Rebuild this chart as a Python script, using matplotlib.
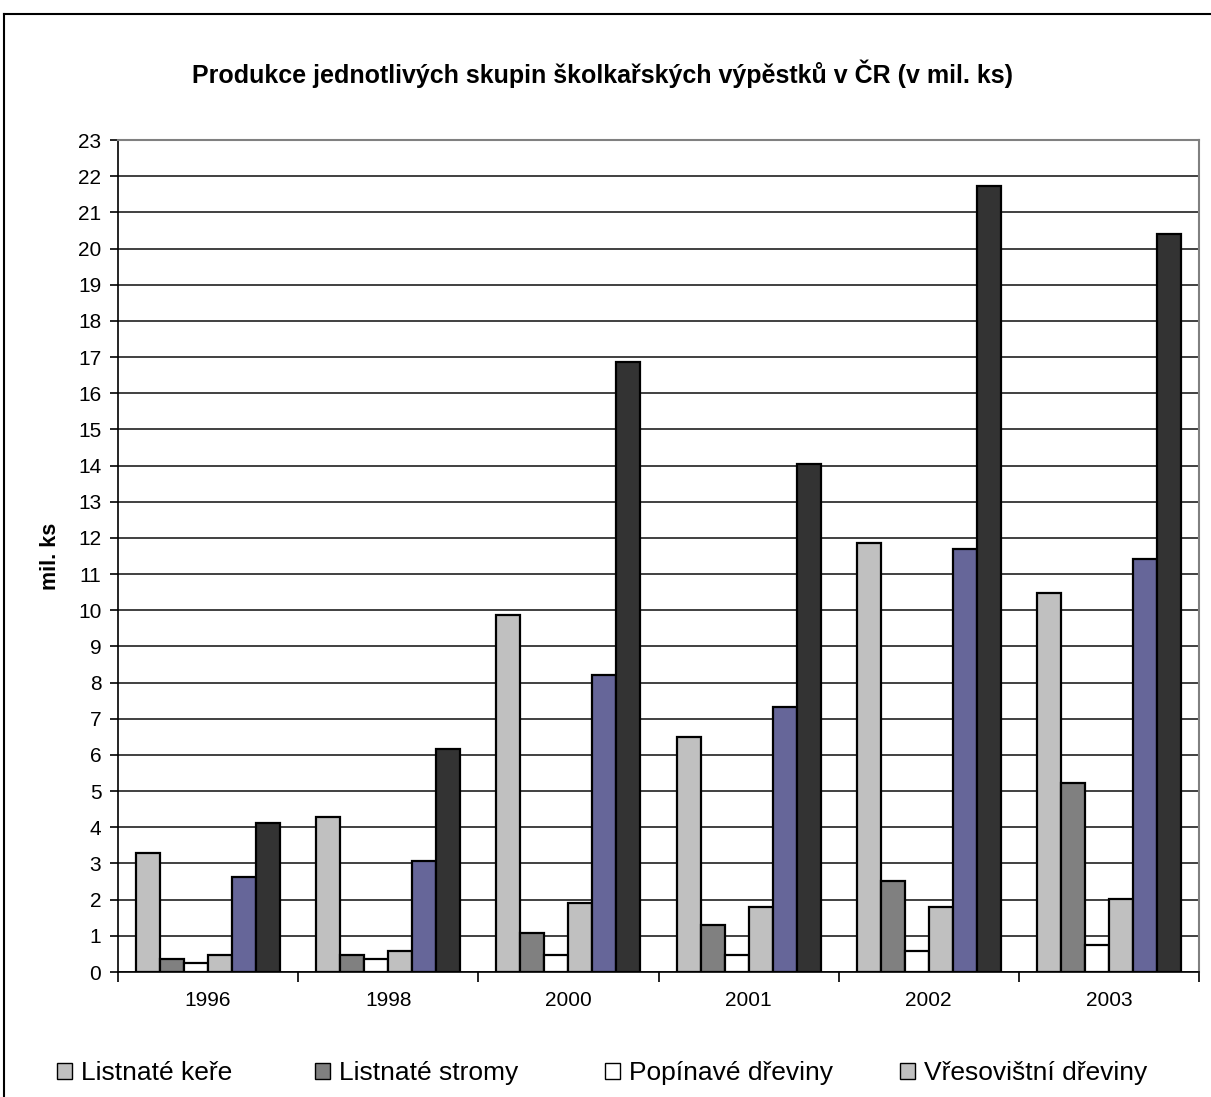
"""
Produkce jednotlivých skupin školkařských výpěstků v ČR - grouped bar chart
"""

# Imports - general
import numpy as np
import matplotlib
matplotlib.use("Agg")
import matplotlib.pyplot as plt
from matplotlib.lines import Line2D
from matplotlib.patches import Rectangle

# settings
plt.rcParams['font.family'] = ['Liberation Sans', 'DejaVu Sans']

# data (mil. ks)
years = ['1996', '1998', '2000', '2001', '2002', '2003']
listnate_kere = [3.30, 4.29, 9.88, 6.50, 11.86, 10.48]
listnate_stromy = [0.35, 0.47, 1.08, 1.30, 2.52, 5.23]
popinave_dreviny = [0.25, 0.35, 0.47, 0.47, 0.58, 0.75]
vresovistni_dreviny = [0.47, 0.57, 1.91, 1.79, 1.80, 2.02]
series_5 = [2.63, 3.07, 8.21, 7.33, 11.69, 11.42]
series_6 = [4.12, 6.17, 16.86, 14.05, 21.73, 20.40]

series = [listnate_kere, listnate_stromy, popinave_dreviny,
          vresovistni_dreviny, series_5, series_6]
legend_labels = ['Listnaté keře', 'Listnaté stromy', 'Popínavé dřeviny',
                 'Vřesovištní dřeviny']
colors = ['#C0C0C0', '#808080', '#FFFFFF', '#C0C0C0', '#666699', '#333333']


def main():
    W, H = 1211, 1097
    fig = plt.figure(figsize=(W / 100, H / 100), dpi=100)

    # outer chart border (right / bottom cut off in original)
    fig.add_artist(Line2D([4 / W, 1.0], [1 - 14 / H, 1 - 14 / H],
                          transform=fig.transFigure, color='black', lw=1.5))
    fig.add_artist(Line2D([4 / W, 4 / W], [0, 1 - 14 / H],
                          transform=fig.transFigure, color='black', lw=1.5))

    # plot area
    x0, x1, y_top, y_bot = 118, 1199, 140, 972
    ax = fig.add_axes([x0 / W, 1 - y_bot / H, (x1 - x0) / W, (y_bot - y_top) / H])

    n_series = len(series)
    bar_w = 0.8 / n_series
    x = np.arange(len(years))
    for ii, (vals, col) in enumerate(zip(series, colors)):
        offs = -0.4 + bar_w * (ii + 0.5)
        ax.bar(x + offs, vals, width=bar_w, color=col, edgecolor='black',
               linewidth=1.6, zorder=3)

    # axes
    ax.set_xlim(-0.5, len(years) - 0.5)
    ax.set_ylim(0, 23)
    ax.set_yticks(np.arange(0, 24))
    ax.yaxis.grid(True, color='#202020', lw=1.2, zorder=0)
    ax.set_xticks(x)
    ax.set_xticklabels(years)
    ax.set_xticks(np.arange(-0.5, len(years)), minor=True)
    ax.tick_params(axis='x', which='major', length=0, labelsize=15, pad=14)
    ax.tick_params(axis='x', which='minor', length=7, width=1.2, color='black')
    ax.tick_params(axis='y', length=6, width=1.2, labelsize=15, pad=6)
    for side in ['top', 'right']:
        ax.spines[side].set_color('#808080')
        ax.spines[side].set_linewidth(1.5)
    for side in ['left', 'bottom']:
        ax.spines[side].set_color('black')
        ax.spines[side].set_linewidth(1.2)
    ax.set_ylabel('mil. ks', fontsize=15.5, fontweight='bold', labelpad=12)

    # title
    fig.text(602 / W, 1 - 74 / H,
             'Produkce jednotlivých skupin školkařských výpěstků v ČR (v mil. ks)',
             ha='center', va='center', fontsize=18, fontweight='bold')

    # legend (only first row visible in original)
    legend_x = [57, 315, 605, 900]
    for lx, lab, col in zip(legend_x, legend_labels, colors):
        handle = Rectangle((0, 0), 1, 1, facecolor=col, edgecolor='black', lw=1.0)
        fig.legend([handle], [lab], loc='center left',
                   bbox_to_anchor=(lx / W, 1 - 1073 / H), frameon=False,
                   fontsize=19, handlelength=0.55, handleheight=0.55,
                   handletextpad=0.35, borderpad=0, borderaxespad=0)

    fig.savefig('out.png', dpi=100)
    plt.close('all')


if __name__ == "__main__":
    main()
